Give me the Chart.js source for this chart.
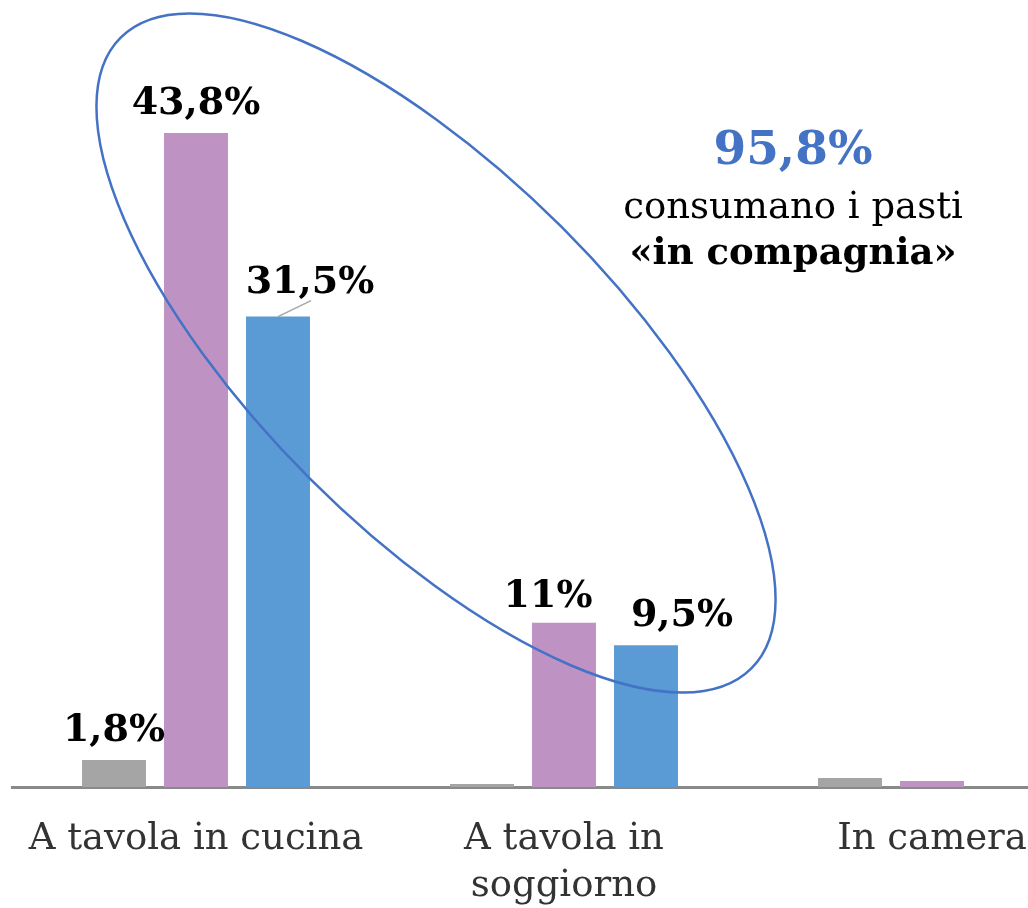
<!DOCTYPE html>
<html>
<head>
<meta charset="utf-8">
<script src="https://cdn.jsdelivr.net/npm/chart.js@4"></script>
<style>
  html, body { margin: 0; padding: 0; background: #fff; overflow: hidden; }
  #wrap { width: 1028px; height: 908px; overflow: hidden; }
</style>
</head>
<body>
<div id="wrap"><canvas id="pasti-chart" width="1116" height="908"></canvas></div>
<script>
// categories (second one wraps on two lines)
let categories = ['A tavola in cucina', ['A tavola in', 'soggiorno'], 'In camera']

// one array per series
let serieGrigia = [1.8, 0.2, 0.6]
let serieViola = [43.8, 11, 0.4]
let serieBlu = [31.5, 9.5, 0]

let seriesColors = ['#a5a5a5', '#be93c4', '#5b9bd5']

// callout text
let totale = '95,8%'
let testoRiga1 = 'consumano i pasti'
let testoRiga2 = '«in compagnia»'

let serif = "'DejaVu Serif', 'Liberation Serif', serif"

// small shifts for some value labels (dataset-index)
let labelShift = {
    '2-0': {dx: 32, dy: -5, leader: true},
    '1-1': {dx: -16, dy: 3},
    '2-1': {dx: 36, dy: 0}
}

function formatValue(v) {
    return String(v).replace('.', ',') + '%'
}

// draws the value labels over bars
let valueLabels = {
    id: 'valueLabels',
    afterDatasetsDraw(chart) {
        let ctx = chart.ctx
        ctx.save()
        ctx.font = 'bold 38px ' + serif
        ctx.fillStyle = '#000'
        ctx.textAlign = 'center'
        ctx.textBaseline = 'alphabetic'
        chart.data.datasets.forEach((ds, d) => {
            let meta = chart.getDatasetMeta(d)
            meta.data.forEach((bar, i) => {
                let v = ds.data[i]
                if (v < 1) return
                let s = labelShift[d + '-' + i] || {dx: 0, dy: 0}
                let x = bar.x + s.dx
                let y = bar.y - 19 + s.dy
                ctx.fillText(formatValue(v), x, y)
                if (s.leader) {
                    ctx.strokeStyle = '#a6a6a6'
                    ctx.lineWidth = 1.5
                    ctx.beginPath()
                    ctx.moveTo(bar.x, bar.y)
                    ctx.lineTo(x + 1, y + 8)
                    ctx.stroke()
                }
            })
        })
        ctx.restore()
    }
}

// ellipse round the "in compagnia" bars and the callout text
let callout = {
    id: 'callout',
    afterDraw(chart) {
        let ctx = chart.ctx
        ctx.save()
        ctx.strokeStyle = '#4472c4'
        ctx.lineWidth = 2.5
        ctx.beginPath()
        ctx.ellipse(436, 353, 446, 178, Math.PI / 4, 0, Math.PI * 2)
        ctx.stroke()

        ctx.textAlign = 'center'
        ctx.textBaseline = 'alphabetic'
        ctx.fillStyle = '#4472c4'
        ctx.font = 'bold 47px ' + serif
        ctx.fillText(totale, 793, 164)
        ctx.fillStyle = '#000'
        ctx.font = '37px ' + serif
        ctx.fillText(testoRiga1, 793, 218)
        ctx.font = 'bold 37px ' + serif
        ctx.fillText(testoRiga2, 793, 264)
        ctx.restore()
    }
}

let ctx = document.querySelector('#pasti-chart').getContext('2d')

let chart = new Chart(ctx, {
    type: 'bar',
    data: {
        labels: categories,
        datasets: [
            {data: serieGrigia, backgroundColor: seriesColors[0]},
            {data: serieViola, backgroundColor: seriesColors[1]},
            {data: serieBlu, backgroundColor: seriesColors[2]}
        ]
    },
    options: {
        responsive: false,
        animation: false,
        categoryPercentage: 0.6685,
        barPercentage: 0.78,
        layout: {padding: {left: 12, right: 0, top: 0, bottom: 0}},
        plugins: {legend: {display: false}, tooltip: {enabled: false}},
        scales: {
            x: {
                grid: {display: false, drawTicks: false},
                border: {display: true, color: '#898989', width: 3},
                ticks: {
                    color: '#333',
                    padding: 29,
                    maxRotation: 0,
                    autoSkip: false,
                    font: {family: serif, size: 37, lineHeight: 1.27}
                },
                // fixed axis height, and no extra side padding for the labels
                afterFit(scale) {
                    scale.height = 121
                    scale.paddingLeft = 0
                    scale.paddingRight = 0
                }
            },
            y: {
                display: false,
                min: 0,
                max: 52.7
            }
        }
    },
    plugins: [valueLabels, callout]
})
</script>
</body>
</html>
